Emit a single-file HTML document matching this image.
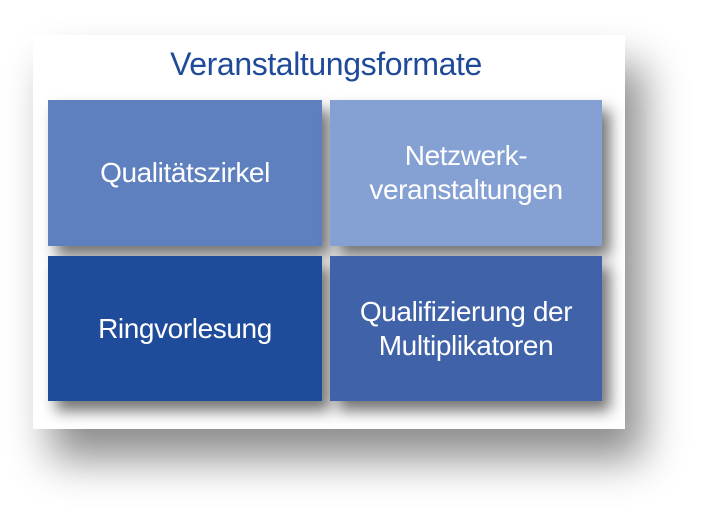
<!DOCTYPE html>
<html><head><style>
body{margin:0;width:715px;height:521px;background:#fff;position:relative;overflow:hidden;font-family:"Liberation Sans",sans-serif}
.panel{position:absolute;left:33px;top:35px;width:592px;height:394px;background:#fff;box-shadow:18px 30px 40px rgba(0,0,0,0.45)}
.title{position:absolute;left:0;width:652px;top:46px;text-align:center;color:#1f4a99;font-size:32px;letter-spacing:-0.4px}
.b{position:absolute;display:flex;align-items:center;justify-content:center;text-align:center;color:#fff;font-size:28px;line-height:34px;letter-spacing:-0.4px;box-shadow:8px 10px 14px rgba(0,0,0,0.55)}
</style></head><body>
<div class="panel"></div>
<div class="title">Veranstaltungsformate</div>
<div class="b" style="left:48px;top:100px;width:274px;height:146px;background:#5e80bf">Qualitätszirkel</div>
<div class="b" style="left:330px;top:100px;width:272px;height:146px;background:#85a1d3">Netzwerk-<br>veranstaltungen</div>
<div class="b" style="left:48px;top:256px;width:274px;height:145px;background:#1f4c9a">Ringvorlesung</div>
<div class="b" style="left:330px;top:256px;width:272px;height:145px;background:#3f62a9">Qualifizierung der<br>Multiplikatoren</div>
</body></html>
